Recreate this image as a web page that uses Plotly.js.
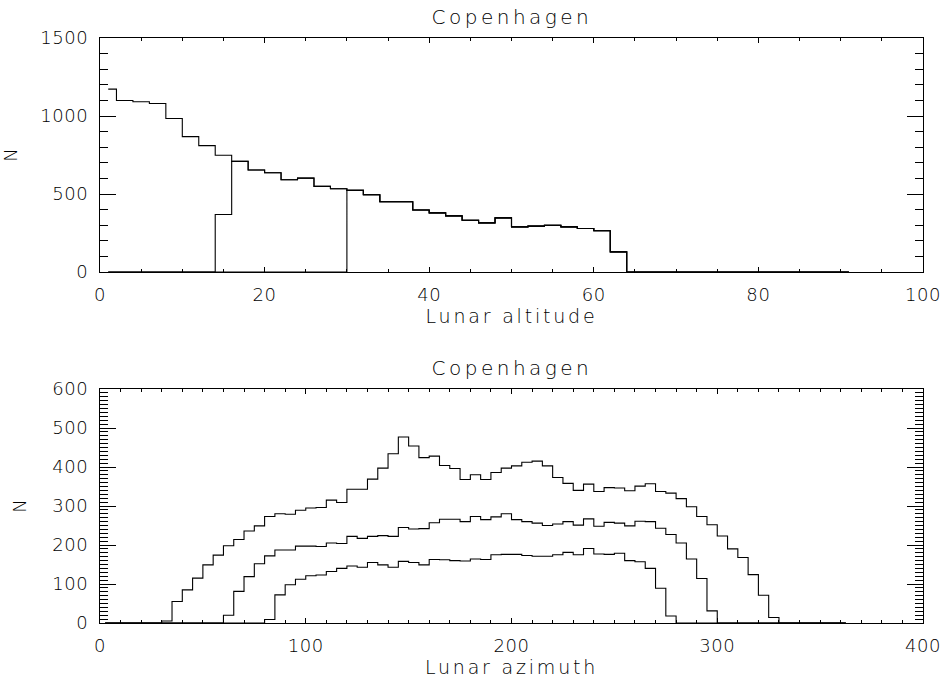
<!DOCTYPE html>
<html>
<head>
<meta charset="utf-8">
<script src="https://cdn.plot.ly/plotly-3.0.1.min.js"></script>
<style>
  html, body { margin: 0; padding: 0; background: #fff; }
  #chart { width: 941px; height: 686px; }
  #chart .annotation-text { letter-spacing: 3.5px; }
  #chart .g-xtitle text, #chart .g-x2title text { letter-spacing: 2.8px; }
  #chart .xtick text, #chart .x2tick text, #chart .ytick text, #chart .y2tick text { letter-spacing: 0.6px; }
</style>
</head>
<body>
<div id="chart"></div>
<script>
// ---------- Data ----------
const titleText = "Copenhagen";
const altLabel = "Lunar altitude";
const aziLabel = "Lunar azimuth";
const yLabel = "N";

// Altitude histogram: bins 2 deg wide, centres 1,3,...,91
const altBinStart = 1, altBinWidth = 2, altBinCount = 46;
const altAll = [1172,1099,1091,1080,984,868,810,748,709,654,636,591,602,549,534,523,
  495,450,450,397,379,360,332,315,347,289,294,300,289,279,264,129,
  0,0,0,0,0,0,0,0,0,0,0,0,0,0];
const altMid = [0,0,0,0,0,0,0,369,709,654,636,591,602,549,534,523,
  495,450,450,397,379,360,332,315,347,289,294,300,289,279,264,129,
  0,0,0,0,0,0,0,0,0,0,0,0,0,0];
const altHigh = [0,0,0,0,0,0,0,0,0,0,0,0,0,0,0,523,
  495,450,450,397,379,360,332,315,347,289,294,300,289,279,264,129,
  0,0,0,0,0,0,0,0,0,0,0,0,0,0];

// Azimuth histogram: bins 5 deg wide, centres 2.5,7.5,...,362.5
const aziBinStart = 2.5, aziBinWidth = 5, aziBinCount = 73;
const aziAll = [0,0,0,0,0,0,5,55,85,115,149,174,198,214,236,249,273,280,279,289,
  295,296,315,309,343,343,369,397,434,477,454,424,428,404,396,368,380,368,386,397,
  403,412,415,403,373,358,340,356,337,347,346,339,351,357,337,333,319,298,273,252,
  223,190,168,124,71,14,0,0,0,0,0,0,0];
const aziMid = [0,0,0,0,0,0,0,0,0,0,0,0,20,81,119,152,172,187,187,197,
  197,196,205,204,222,217,222,224,222,245,241,242,257,266,266,260,273,265,272,280,
  265,260,256,250,254,260,251,267,248,258,256,249,261,260,243,227,205,164,114,31,
  0,0,0,0,0,0,0,0,0,0,0,0,0];
const aziLow = [0,0,0,0,0,0,0,0,0,0,0,0,0,0,0,0,9,72,98,112,
  121,123,132,140,146,143,155,149,143,158,155,149,163,162,160,159,164,163,175,176,
  176,173,171,171,175,181,175,191,177,176,179,160,157,140,89,18,0,0,0,0,
  0,0,0,0,0,0,0,0,0,0,0,0,0];

// Axis ticks
const altTicks = [0,20,40,60,80,100];
const altNTicks = [0,500,1000,1500];
const aziTicks = [0,100,200,300,400];
const aziNTicks = [0,100,200,300,400,500,600];

// ---------- Build ----------
function centres(start, width, n) {
  const out = [];
  for (let i = 0; i < n; i++) out.push(start + i * width);
  return out;
}
const altX = centres(altBinStart, altBinWidth, altBinCount);
const aziX = centres(aziBinStart, aziBinWidth, aziBinCount);

const FONT = "DejaVu Sans, sans-serif";
const TXT = "#000";

function hist(x, y, xa, ya) {
  return {
    type: "scatter", mode: "lines", x: x, y: y, xaxis: xa, yaxis: ya,
    line: { shape: "hvh", color: "#000", width: 1.1 },
    hoverinfo: "skip", showlegend: false, cliponaxis: false
  };
}

const traces = [
  hist(altX, altAll, "x", "y"),
  hist(altX, altMid, "x", "y"),
  hist(altX, altHigh, "x", "y"),
  hist(aziX, aziAll, "x2", "y2"),
  hist(aziX, aziMid, "x2", "y2"),
  hist(aziX, aziLow, "x2", "y2")
];

function xAxis(range, ticks, minorDtick, title, anchor, titleStandoff) {
  return {
    range: range, tickvals: ticks, ticktext: ticks.map(String),
    ticks: "inside", ticklen: 5, tickwidth: 1, tickcolor: "#000",
    minor: { dtick: minorDtick, ticks: "inside", ticklen: 3, tickwidth: 1, tickcolor: "#000", showgrid: false },
    showline: true, linecolor: "#000", linewidth: 1, mirror: "ticks",
    showgrid: false, zeroline: false, anchor: anchor,
    tickfont: { family: FONT, size: 18, color: TXT, weight: 300 },
    ticklabelstandoff: 6,
    title: { text: title, font: { family: FONT, size: 19, color: TXT, weight: 300 }, standoff: titleStandoff },
    fixedrange: true
  };
}
function yAxis(range, ticks, minorDtick, anchor, domain) {
  return {
    range: range, tickvals: ticks, ticktext: ticks.map(String), domain: domain,
    ticks: "inside", ticklen: 16, tickwidth: 1, tickcolor: "#000",
    minor: { dtick: minorDtick, ticks: "inside", ticklen: 8, tickwidth: 1, tickcolor: "#000", showgrid: false },
    showline: true, linecolor: "#000", linewidth: 1, mirror: "ticks",
    showgrid: false, zeroline: false, anchor: anchor,
    tickfont: { family: FONT, size: 18, color: TXT, weight: 300 },
    ticklabelstandoff: 7,
    title: { text: yLabel, font: { family: FONT, size: 18, color: TXT, weight: 300 }, standoff: 22 },
    fixedrange: true
  };
}

const layout = {
  width: 941, height: 686,
  margin: { l: 100, r: 18, t: 38, b: 63 },
  paper_bgcolor: "#fff", plot_bgcolor: "#fff",
  showlegend: false,
  xaxis: xAxis([0, 100], altTicks, 5, altLabel, "y", 6),
  yaxis: yAxis([0, 1500], altNTicks, 100, "x", [0.6, 1]),
  xaxis2: xAxis([0, 400], aziTicks, 10, aziLabel, "y2", 2),
  yaxis2: yAxis([0, 600], aziNTicks, 10, "x2", [0, 0.4]),
  annotations: [
    { text: titleText, xref: "x", yref: "paper", x: 50, y: 1, yanchor: "bottom", yshift: 7,
      showarrow: false, font: { family: FONT, size: 20, color: TXT, weight: 300 } },
    { text: titleText, xref: "x2", yref: "paper", x: 200, y: 0.4, yanchor: "bottom", yshift: 7,
      showarrow: false, font: { family: FONT, size: 20, color: TXT, weight: 300 } }
  ]
};

Plotly.newPlot("chart", traces, layout, { displayModeBar: false, staticPlot: true });
</script>
</body>
</html>
